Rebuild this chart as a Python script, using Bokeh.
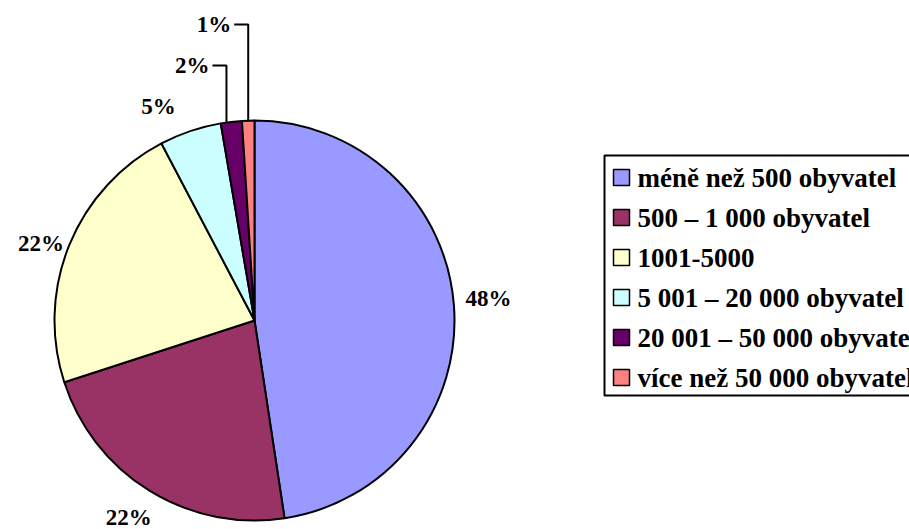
import math
from bokeh.plotting import figure
from bokeh.models import Range1d, ColumnDataSource
from bokeh.core.properties import value
from bokeh.embed import file_html
from bokeh.resources import INLINE

categories = ["méně než 500 obyvatel", "500 – 1 000 obyvatel", "1001-5000",
              "5 001 – 20 000 obyvatel", "20 001 – 50 000 obyvatele", "více než 50 000 obyvatel"]
shares = [47.6, 22.4, 22.3, 5.0, 1.7, 1.0]
colors = ["#9999FF", "#993366", "#FFFFCC", "#CCFFFF", "#660066", "#FF8080"]

# label placement styling (radius from centre, angular nudge in degrees clockwise)
label_radius = [235, 234, 227, 235, None, None]
label_nudge = [-1.0, 0.8, -2.2, -5.4, -1.4, 0.0]
# label rise above pie centre for callout labels (None = normal placement)
callout_rise = [None, None, None, None, 255, 296]

W, H = 909, 529
FONT = value("Liberation Serif")

p = figure(width=W, height=H, output_backend="svg", toolbar_location=None,
           x_range=Range1d(0, W), y_range=Range1d(0, H), min_border=0)
p.axis.visible = False
p.grid.visible = False
p.outline_line_color = None
p.background_fill_color = "white"

cx, cy, R = 254, 209, 200
total = sum(shares)
starts, ends, mids = [], [], []
cum = 0.0
for s in shares:
    a0 = cum / total
    cum += s
    a1 = cum / total
    starts.append(math.pi / 2 - 2 * math.pi * a0)
    ends.append(math.pi / 2 - 2 * math.pi * a1)
    mids.append(math.pi / 2 - 2 * math.pi * (a0 + a1) / 2)

src = ColumnDataSource(dict(start=starts, end=ends, color=colors))
p.wedge(x=cx, y=cy, radius=R, start_angle="start", end_angle="end", direction="clock",
        fill_color="color", line_color="black", line_width=2, source=src)

labels = [f"{round(s / total * 100)}%" for s in shares]
lx, ly, ltxt = [], [], []
cx_l, cy_l, ct = [], [], []
seg_xs, seg_ys = [], []
for i, m in enumerate(mids):
    a = m - math.radians(label_nudge[i])
    if callout_rise[i] is None:
        lr = label_radius[i]
        lx.append(cx + lr * math.cos(a))
        ly.append(cy + lr * math.sin(a))
        ltxt.append(labels[i])
    else:
        ex = cx + R * math.cos(a)
        ey = cy + R * math.sin(a)
        ty = cy + callout_rise[i]
        seg_xs.append([ex, ex, ex - 14])
        seg_ys.append([ey, ty, ty])
        cx_l.append(ex - 17)
        cy_l.append(ty)
        ct.append(labels[i])

p.multi_line(xs=seg_xs, ys=seg_ys, line_color="black", line_width=2)
p.text(x=lx, y=ly, text=ltxt, text_align="center", text_baseline="middle",
       text_font=FONT, text_font_style="bold", text_font_size="23px", text_color="black")
p.text(x=cx_l, y=cy_l, text=ct, text_align="right", text_baseline="middle",
       text_font=FONT, text_font_style="bold", text_font_size="23px", text_color="black")

# legend
lg_left, lg_top, lg_bottom = 604, 374, 134
p.quad(left=lg_left, right=W + 20, top=lg_top, bottom=lg_bottom,
       fill_color="white", line_color="black", line_width=2)
row0, step = 352, 40
ys = [row0 - i * step for i in range(len(categories))]
p.rect(x=[621] * len(categories), y=ys, width=16, height=16, width_units="screen",
       height_units="screen", fill_color=colors, line_color="black", line_width=1.5)
p.text(x=[637] * len(categories), y=ys, text=categories, text_align="left",
       text_baseline="middle", text_font=FONT, text_font_style="bold",
       text_font_size="27px", text_color="black")

open("out.html", "w").write(file_html(p, INLINE))
